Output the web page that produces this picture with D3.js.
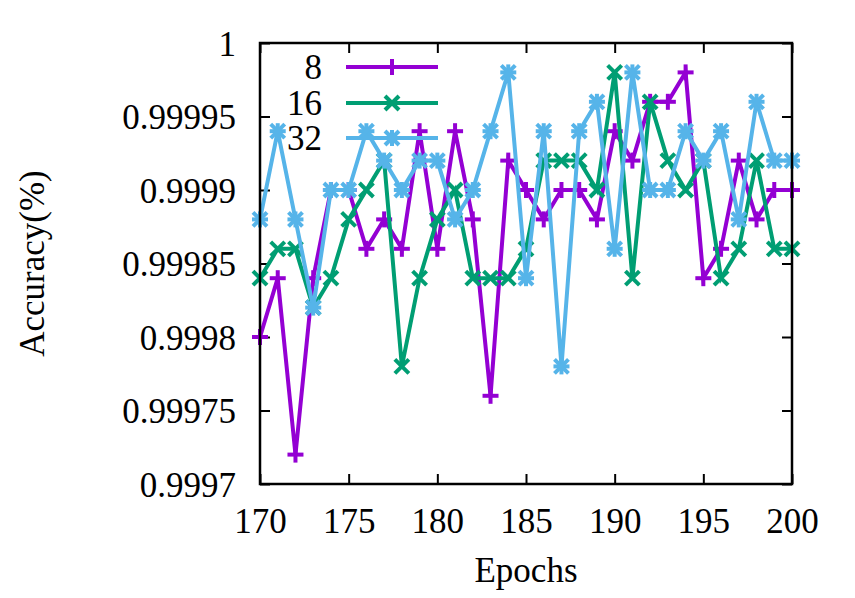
<!DOCTYPE html>
<html><head><meta charset="utf-8">
<script src="https://cdn.jsdelivr.net/npm/d3@7"></script>
<style>body{margin:0;background:#fff}svg{display:block}</style>
</head><body>
<svg id="chart" width="855" height="598"></svg>
<script>
const epochs = d3.range(170, 201);
const seriesNames = ["8", "16", "32"];
const acc8 = [0.99980,0.99984,0.99972,0.99984,0.99990,0.99990,0.99986,0.99988,0.99986,0.99994,
  0.99986,0.99994,0.99988,0.99976,0.99992,0.99990,0.99988,0.99990,0.99990,0.99988,
  0.99994,0.99992,0.99996,0.99996,0.99998,0.99984,0.99986,0.99992,0.99988,0.99990,0.99990];
const acc16 = [0.99984,0.99986,0.99986,0.99982,0.99984,0.99988,0.99990,0.99992,0.99978,0.99984,
  0.99988,0.99990,0.99984,0.99984,0.99984,0.99986,0.99992,0.99992,0.99992,0.99990,
  0.99998,0.99984,0.99996,0.99992,0.99990,0.99992,0.99984,0.99986,0.99992,0.99986,0.99986];
const acc32 = [0.99988,0.99994,0.99988,0.99982,0.99990,0.99990,0.99994,0.99992,0.99990,0.99992,
  0.99992,0.99988,0.99990,0.99994,0.99998,0.99984,0.99994,0.99978,0.99994,0.99996,
  0.99986,0.99998,0.99990,0.99990,0.99994,0.99992,0.99994,0.99988,0.99996,0.99992,0.99992];
const xTicks = [170,175,180,185,190,195,200];
const yTicks = [0.9997,0.99975,0.9998,0.99985,0.9999,0.99995,1];
const yTickLabels = ["0.9997","0.99975","0.9998","0.99985","0.9999","0.99995","1"];
const colors = ["#9400d3","#009e73","#56b4e9"];
const markerTypes = ["plus","cross","star"];
const allSeries = [acc8, acc16, acc32];

const svg = d3.select("#chart");
const L = 260, R = 792, T = 43, B = 484;
const x = d3.scaleLinear().domain([170,200]).range([L,R]);
const y = d3.scaleLinear().domain([0.9997,1]).range([B,T]);
const FONT = "'Liberation Serif'";
const fs = "35px";
const lw = 4;

function drawMarker(g, type, cx, cy, color) {
  const s = 8, c = 7;
  const segs = [];
  if (type === "plus" || type === "star") { segs.push([-s,0,s,0],[0,-s,0,s]); }
  if (type === "cross" || type === "star") { segs.push([-c,-c,c,c],[-c,c,c,-c]); }
  segs.forEach(q => g.append("line")
    .attr("x1",cx+q[0]).attr("y1",cy+q[1]).attr("x2",cx+q[2]).attr("y2",cy+q[3])
    .attr("stroke",color).attr("stroke-width",lw));
}

const yAxis = d3.axisLeft(y).tickValues(yTicks).tickSize(-10).tickFormat((d,i)=>yTickLabels[i]).tickPadding(24);
const gy = svg.append("g").attr("transform",`translate(${L},0)`).call(yAxis);
const yAxisR = d3.axisRight(y).tickValues(yTicks).tickSize(-10).tickFormat("");
const gyr = svg.append("g").attr("transform",`translate(${R},0)`).call(yAxisR);
const xAxis = d3.axisBottom(x).tickValues(xTicks).tickSize(-10).tickFormat(d3.format("d")).tickPadding(24);
const gx = svg.append("g").attr("transform",`translate(0,${B})`).call(xAxis);
const xAxisT = d3.axisTop(x).tickValues(xTicks).tickSize(-10).tickFormat("");
const gxt = svg.append("g").attr("transform",`translate(0,${T})`).call(xAxisT);
[gy,gyr,gx,gxt].forEach(g=>{
  g.select(".domain").remove();
  g.selectAll(".tick line").attr("stroke","#000").attr("stroke-width",2);
  g.selectAll("text").style("font-family",FONT).style("font-size",fs).attr("fill","#000");
});
gy.selectAll("text").attr("dy","0.35em");

allSeries.forEach((vals, si) => {
  const g = svg.append("g");
  const line = d3.line().x((d,i)=>x(epochs[i])).y(d=>y(d));
  g.append("path").datum(vals).attr("d",line).attr("fill","none")
    .attr("stroke",colors[si]).attr("stroke-width",lw).attr("stroke-linejoin","miter");
  vals.forEach((v,i)=>drawMarker(g, markerTypes[si], x(epochs[i]), y(v), colors[si]));
});

svg.append("rect").attr("x",L).attr("y",T).attr("width",R-L).attr("height",B-T)
  .attr("fill","none").attr("stroke","#000").attr("stroke-width",2.5);

const legY = [67,103,138];
seriesNames.forEach((n,si)=>{
  const g = svg.append("g");
  g.append("text").attr("x",322).attr("y",legY[si]).attr("dy","0.35em").attr("text-anchor","end")
    .style("font-family",FONT).style("font-size",fs).text(n);
  g.append("line").attr("x1",346).attr("x2",438).attr("y1",legY[si]).attr("y2",legY[si])
    .attr("stroke",colors[si]).attr("stroke-width",lw);
  drawMarker(g, markerTypes[si], 392, legY[si], colors[si]);
});

svg.append("text").attr("x",(L+R)/2).attr("y",582).attr("text-anchor","middle")
  .style("font-family",FONT).style("font-size",fs).text("Epochs");
svg.append("text").attr("transform",`translate(44,${(T+B)/2}) rotate(-90)`).attr("text-anchor","middle")
  .style("font-family",FONT).style("font-size",fs).text("Accuracy(%)");
</script>
</body></html>
